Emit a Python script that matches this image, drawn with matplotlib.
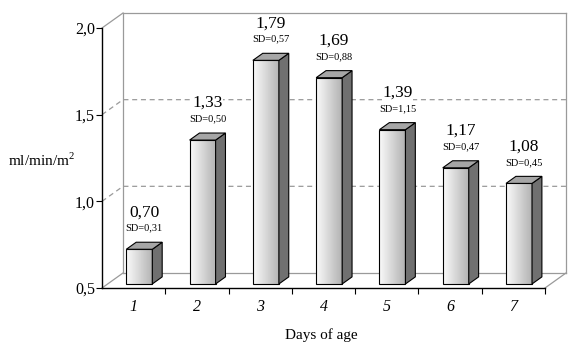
import matplotlib.pyplot as plt
import numpy as np
from matplotlib.patches import Polygon

plt.switch_backend("Agg")
plt.rcParams["font.family"] = ["Liberation Serif", "DejaVu Serif"]
plt.rcParams["mathtext.fontset"] = "custom"
plt.rcParams["mathtext.rm"] = "Liberation Serif"

days = ["1", "2", "3", "4", "5", "6", "7"]
means = [0.70, 1.33, 1.79, 1.69, 1.39, 1.17, 1.08]
sds = [0.31, 0.50, 0.57, 0.88, 1.15, 0.47, 0.45]
yticks = [0.5, 1.0, 1.5, 2.0]
ytick_labels = ["0,5", "1,0", "1,5", "2,0"]

W, H = 572, 351
fig = plt.figure(figsize=(W / 100, H / 100), dpi=100)
ax = fig.add_axes([102 / W, (H - 288) / H, 443 / W, 260 / H])
ax.set_xlim(0, len(days))
ax.set_ylim(0.5, 2.0)

# 3d depth in data units (wall offset 21px right, 15px up)
DX = 21 * len(days) / 443
DY = 15 * 1.5 / 260
f0, fd = 0.27, 0.47
dx0, dy0 = f0 * DX, f0 * DY
dxs, dys = fd * DX, fd * DY
bw = 26 * len(days) / 443
wall = "#9a9a9a"
base = 0.5
kw = dict(color=wall, lw=0.9, clip_on=False, zorder=1)

# walls and floor
ax.plot([0, DX], [2.0, 2.0 + DY], **kw)
ax.plot([DX, 7 + DX], [2.0 + DY, 2.0 + DY], **kw)
ax.plot([DX, DX], [base + DY, 2.0 + DY], **kw)
ax.plot([7 + DX, 7 + DX], [base + DY, 2.0 + DY], **kw)
ax.plot([DX, 7 + DX], [base + DY, base + DY], **kw)
ax.plot([0, DX], [base, base + DY], **kw)
ax.plot([7, 7 + DX], [base, base + DY], **kw)
for g in [1.0, 1.5]:
    ax.plot([0, DX, 7 + DX], [g, g + DY, g + DY], color=wall, lw=0.9,
            ls=(0, (4, 3)), clip_on=False, zorder=1)

grad = np.linspace(0.98, 0.70, 64).reshape(1, -1)
for i, (m, sd) in enumerate(zip(means, sds)):
    x0 = i + 0.5 - bw / 2 + dx0
    x1 = x0 + bw
    yb = base + dy0
    yt = m + dy0
    ax.imshow(grad, extent=[x0, x1, yb, yt], cmap="gray", vmin=0, vmax=1,
              aspect="auto", zorder=3, interpolation="bilinear")
    ax.add_patch(Polygon([(x0, yb), (x1, yb), (x1, yt), (x0, yt)], closed=True,
                         fill=False, ec="black", lw=0.8, zorder=4, clip_on=False))
    ax.add_patch(Polygon([(x1, yb), (x1 + dxs, yb + dys), (x1 + dxs, yt + dys), (x1, yt)],
                         closed=True, fc="#707070", ec="black", lw=0.8, zorder=4, clip_on=False))
    ax.add_patch(Polygon([(x0, yt), (x1, yt), (x1 + dxs, yt + dys), (x0 + dxs, yt + dys)],
                         closed=True, fc="#a6a6a6", ec="black", lw=0.8, zorder=4, clip_on=False))
    cx = x0 + (bw + dxs) / 2
    top = yt + dys
    ax.text(cx, top + 0.081, f"SD={sd:.2f}".replace(".", ","), fontsize=7.5,
            ha="center", va="center", zorder=5, clip_on=False,
            bbox=dict(fc="white", ec="none", pad=0.5))
    ax.text(cx, top + 0.173, f"{m:.2f}".replace(".", ","), fontsize=12.5,
            ha="center", va="center", zorder=5, clip_on=False,
            bbox=dict(fc="white", ec="none", pad=0.5))

ax.set_xlim(0, len(days))
ax.set_ylim(0.5, 2.0)
ax.patch.set_visible(False)
for s in ["top", "right"]:
    ax.spines[s].set_visible(False)
for s in ["left", "bottom"]:
    ax.spines[s].set_linewidth(1.0)
    ax.spines[s].set_zorder(6)

ax.set_yticks(yticks)
ax.set_yticklabels(ytick_labels, fontsize=11.5)
ax.tick_params(axis="y", direction="out", length=4, width=0.8, pad=1)
ax.set_xticks(np.arange(1, len(days) + 1))
ax.set_xticklabels([])
ax.tick_params(axis="x", which="major", direction="out", length=4, width=0.8)
ax.set_xticks(np.arange(len(days)) + 0.5, minor=True)
ax.set_xticklabels(days, minor=True, fontsize=11.5, style="italic")
ax.tick_params(axis="x", which="minor", length=0, pad=8)

fig.text(8 / W, 1 - 160 / H, "ml/min/m$^2$", fontsize=11, ha="left", va="center")
fig.text(321 / W, 1 - 335 / H, "Days of age", fontsize=11, ha="center", va="center")

fig.savefig("out.png", dpi=100)
